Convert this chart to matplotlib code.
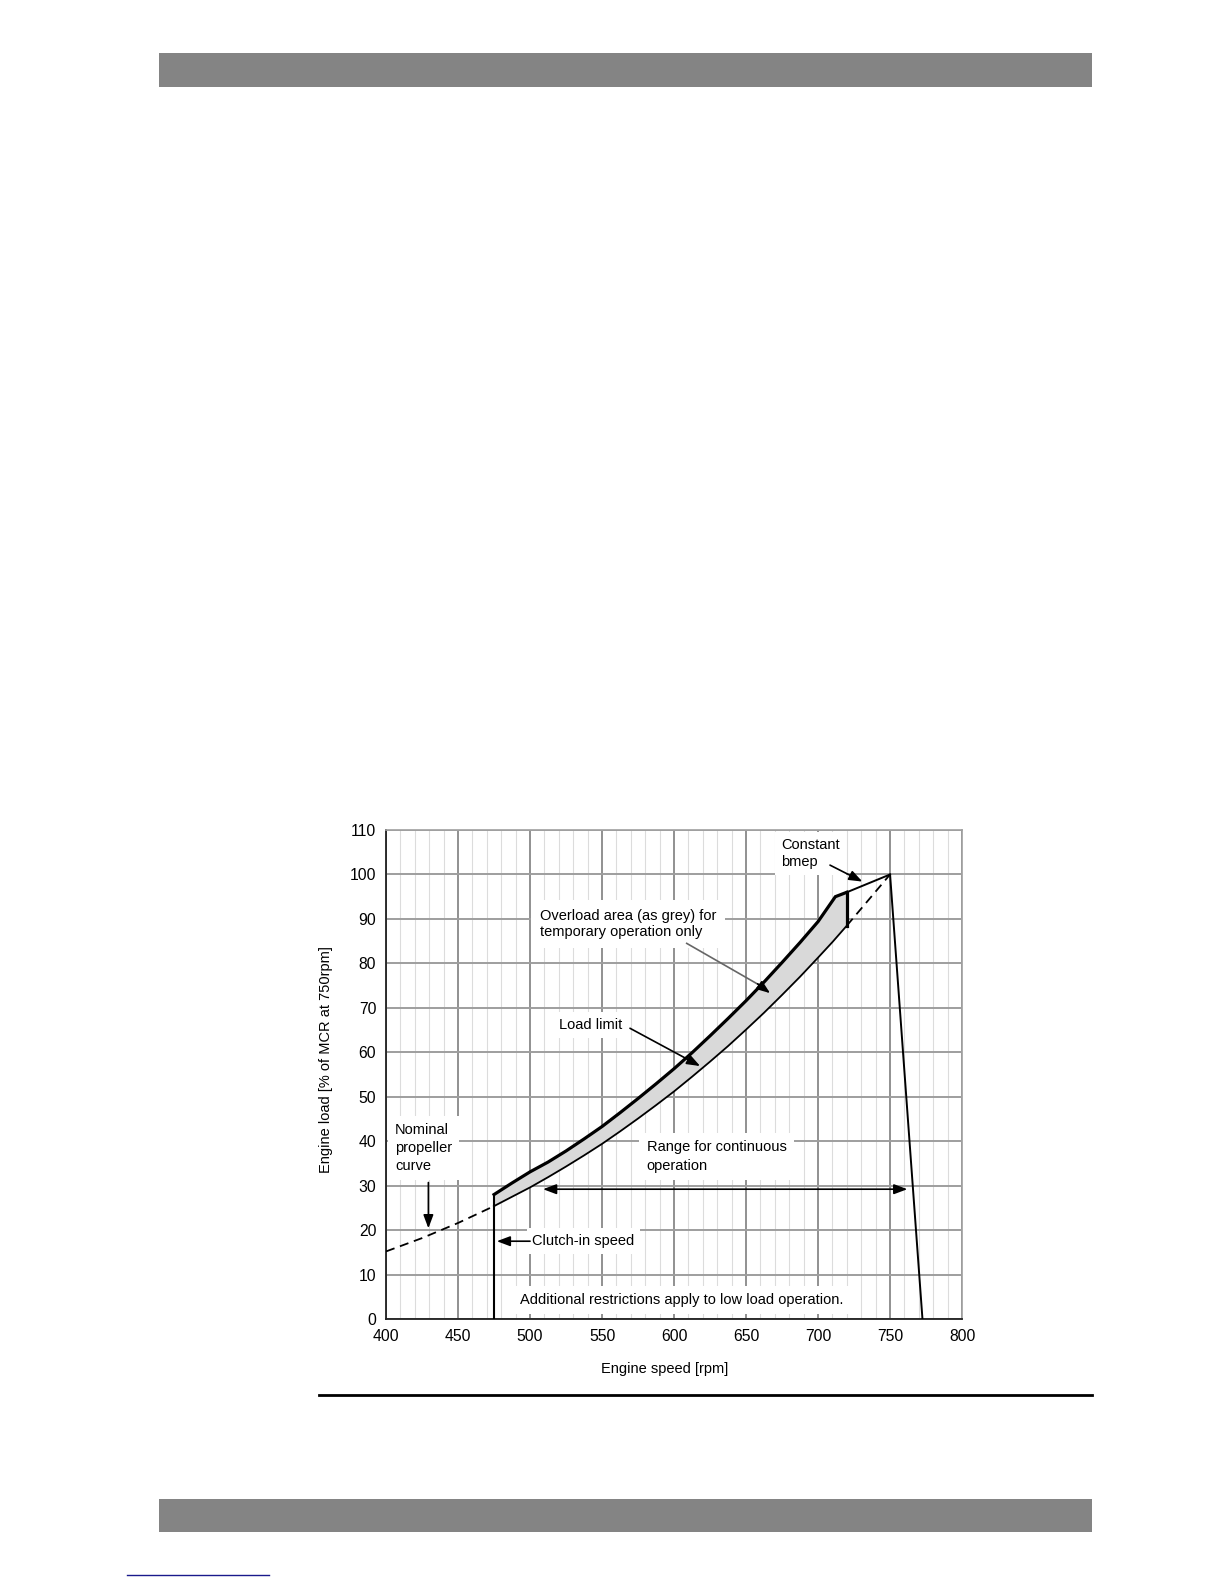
import matplotlib
matplotlib.use("Agg")
import matplotlib.pyplot as plt
import numpy as np
from matplotlib.patches import Rectangle

plt.rcParams['font.family'] = ['Liberation Sans', 'DejaVu Sans']

# ---------------- data ----------------
x_ticks = [400, 450, 500, 550, 600, 650, 700, 750, 800]
y_ticks = [0, 10, 20, 30, 40, 50, 60, 70, 80, 90, 100, 110]

# nominal propeller curve
prop_speed = [400, 425, 450, 475, 487.5, 500, 512.5, 525, 537.5, 550, 562.5, 575, 587.5, 600,
              612.5, 625, 637.5, 650, 662.5, 675, 687.5, 700, 710, 720, 750]
prop_load = [15.2, 18.2, 21.6, 25.4, 27.5, 29.6, 31.9, 34.3, 36.8, 39.4, 42.2, 45.1, 48.1, 51.2,
             54.5, 57.9, 61.4, 65.1, 68.9, 72.9, 77.0, 81.3, 84.8, 88.5, 100.0]

# load limit curve
limit_speed = [475, 487.5, 500, 512.5, 525, 537.5, 550, 562.5, 575, 587.5, 600,
               612.5, 625, 637.5, 650, 662.5, 675, 687.5, 700, 712, 720]
limit_load = [28.0, 30.6, 33.1, 35.3, 37.8, 40.5, 43.3, 46.4, 49.6, 52.9, 56.3,
              59.9, 63.7, 67.6, 71.6, 75.8, 80.2, 84.7, 89.4, 95.0, 96.0]

# constant bmep line
bmep_speed = [720, 750]
bmep_load = [96.0, 100.0]

# overspeed boundary
over_speed = [750, 772.5]
over_load = [100.0, 0.0]

clutch_speed = 475
range_speed = [509, 762]
range_load = 29.2

# ---------------- figure ----------------
fig = plt.figure(figsize=(12.24, 15.84), dpi=100)

# page decorations
fig.patches.append(Rectangle((0.1299, 0.9451), 0.7623, 0.0214, transform=fig.transFigure,
                             facecolor='#848484', edgecolor='none'))
fig.patches.append(Rectangle((0.1299, 0.0328), 0.7623, 0.0209, transform=fig.transFigure,
                             facecolor='#848484', edgecolor='none'))
fig.lines.append(plt.Line2D([0.2606, 0.8922], [0.1193, 0.1193], transform=fig.transFigure,
                            color='black', lw=2))
fig.lines.append(plt.Line2D([0.1038, 0.2198], [0.0057, 0.0057], transform=fig.transFigure,
                            color='#1a1a8c', lw=1))

ax = fig.add_axes([0.3154, 0.1673, 0.4706, 0.3087])
ax.set_xlim(400, 800)
ax.set_ylim(0, 110)
ax.set_xticks(x_ticks)
ax.set_yticks(y_ticks)
ax.set_xticks(np.arange(400, 801, 10), minor=True)
ax.tick_params(which='both', length=0, labelsize=11.3, colors='black')
ax.tick_params(axis='x', pad=7)
ax.tick_params(axis='y', pad=7)
ax.set_axisbelow(True)
ax.grid(which='minor', axis='x', color='#dcdcdc', lw=0.8, zorder=0)
ax.grid(which='major', axis='x', color='#888888', lw=1.3, zorder=0.5)
ax.grid(which='major', axis='y', color='#9e9e9e', lw=1.4, zorder=0.5)
for s in ['top', 'right']:
    ax.spines[s].set_color('#a0a0a0')
    ax.spines[s].set_linewidth(1.2)
for s in ['left', 'bottom']:
    ax.spines[s].set_color('#202020')
    ax.spines[s].set_linewidth(1.3)

# overload grey area
ps = np.array(prop_speed)
pl = np.array(prop_load)
mask = (ps >= 475) & (ps <= 720)
poly_x = list(limit_speed) + list(ps[mask][::-1])
poly_y = list(limit_load) + list(pl[mask][::-1])
ax.fill(poly_x, poly_y, color='#d9d9d9', zorder=2, lw=0)

# propeller curve: dashed outside, solid inside
lo = ps <= 475
hi = ps >= 720
ax.plot(ps[lo], pl[lo], color='black', lw=1.3, ls=(0, (5, 3.2)), zorder=3)
ax.plot(ps[hi], pl[hi], color='black', lw=1.3, ls=(0, (5, 3.2)), zorder=3)
ax.plot(ps[mask], pl[mask], color='black', lw=1.3, zorder=3)

# load limit (thick)
ax.plot(limit_speed, limit_load, color='black', lw=2.3, zorder=4, solid_joinstyle='miter')
ax.plot([limit_speed[0], limit_speed[0]], [pl[ps == 475][0], limit_load[0]], color='black', lw=1.5, zorder=4)
ax.plot([720, 720], [pl[ps == 720][0], limit_load[-1]], color='black', lw=2.3, zorder=4)
# constant bmep
ax.plot(bmep_speed, bmep_load, color='black', lw=1.4, zorder=4)
# overspeed
ax.plot(over_speed, over_load, color='black', lw=1.4, zorder=4)
# clutch-in speed
ax.plot([clutch_speed, clutch_speed], [0, pl[ps == 475][0]], color='black', lw=1.5, zorder=4)

# range arrow
ax.annotate('', xy=(range_speed[1], range_load), xytext=(range_speed[0], range_load),
            arrowprops=dict(arrowstyle='<|-|>,head_length=0.8,head_width=0.3', color='black',
                            lw=1.2, shrinkA=0, shrinkB=0), zorder=5)

fs = 10.5

def label(x, y, s, ls=1.2, pad=0.35):
    ax.text(x, y, s, fontsize=fs, ha='left', va='center', linespacing=ls, zorder=2.5,
            bbox=dict(boxstyle='square,pad=%s' % pad, fc='white', ec='none'))

def arrow(start, end, color='black'):
    ax.annotate('', xy=end, xytext=start,
                arrowprops=dict(arrowstyle='-|>,head_length=0.8,head_width=0.3', color=color,
                                lw=1.2, shrinkA=0, shrinkB=0), zorder=5)

label(506.9, 88.8, 'Overload area (as grey) for\ntemporary operation only', ls=1.2, pad=0.6)
ax.plot([608.8, 662.0], [84.5, 74.6], color='#666666', lw=1.2, zorder=5)
arrow((658.0, 75.4), (666.7, 73.3))

label(520.3, 66.1, 'Load limit', pad=0.4)
arrow((569.4, 65.4), (618.1, 56.9))

label(674.3, 104.7, 'Constant\nbmep', ls=1.25, pad=0.4)
arrow((708.3, 102.1), (730.8, 98.4))

label(406.2, 38.4, 'Nominal\npropeller\ncurve', ls=1.35, pad=0.5)
arrow((429.4, 30.7), (429.4, 20.4))

label(501.6, 17.5, 'Clutch-in speed', pad=0.4)
arrow((500.0, 17.5), (476.9, 17.5))

label(581.0, 36.6, 'Range for continuous\noperation', ls=1.45, pad=0.5)

label(493.1, 4.3, 'Additional restrictions apply to low load operation.', pad=0.5)

fig.text(0.5433, 0.1357, 'Engine speed [rpm]', fontsize=fs, ha='center', va='center')
fig.text(0.2663, 0.3308, 'Engine load [% of MCR at 750rpm]', fontsize=fs, ha='center', va='center',
         rotation=90)

fig.savefig('out.png', dpi=100)
